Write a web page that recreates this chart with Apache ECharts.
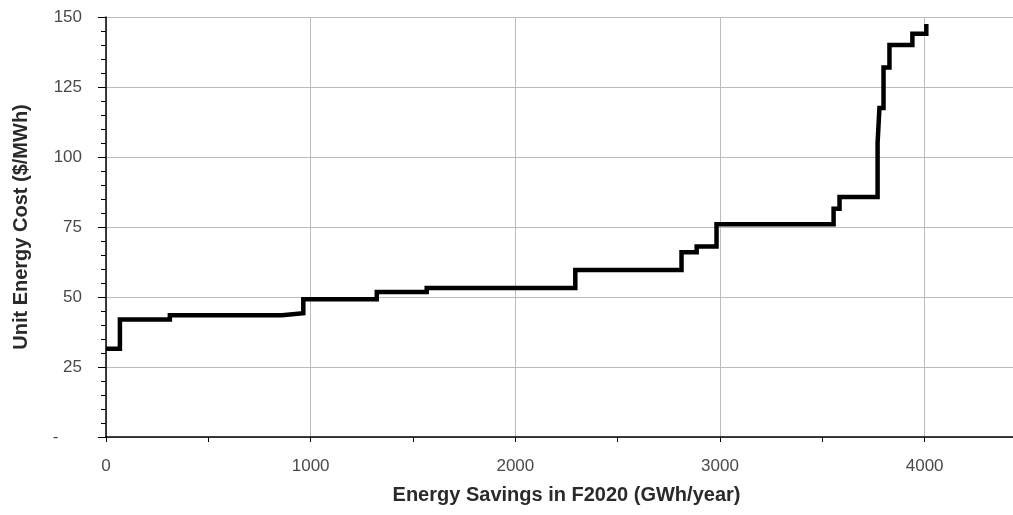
<!DOCTYPE html>
<html>
<head>
<meta charset="utf-8">
<script src="https://cdn.jsdelivr.net/npm/echarts@6/dist/echarts.min.js"></script>
<style>
  html, body { margin: 0; padding: 0; background: #ffffff; }
  #chart { width: 1013px; height: 515px; }
</style>
</head>
<body>
<div id="chart"></div>
<script>
// cumulative savings (GWh/year) where each measure's block starts
const stepStart = [0, 68, 312, 860, 964, 1323, 1567, 2293, 2812, 2886, 2983, 3555, 3584, 3770, 3779, 3799, 3828, 3940, 4008];
// unit cost of each block ($/MWh)
const stepCost = [31.5, 42, 43.5, 44.2, 49.2, 51.8, 53.2, 59.6, 66, 68, 76, 81.5, 85.7, 105, 117.5, 132, 140, 144, 147.5];

const xTitle = "Energy Savings in F2020 (GWh/year)";
const yTitle = "Unit Energy Cost ($/MWh)";

const chart = echarts.init(document.getElementById("chart"));

const gridColor = "#bcbcbc";
const labelColor = "#4a4a4a";
const font = "Liberation Sans, Arial";

const option = {
  animation: false,
  grid: {
    left: 106,
    top: 17,
    width: 921,
    height: 420,
    outerBoundsMode: "none",
  },
  xAxis: [
    {
      type: "value",
      min: 0,
      max: 4500,
      interval: 500,
      axisLine: { lineStyle: { color: "#000000", width: 1.5 } },
      axisTick: { show: true, length: 5, lineStyle: { color: "#000000" } },
      axisLabel: {
        color: labelColor,
        fontFamily: font,
        fontSize: 17,
        margin: 21,
        formatter: (v) => (v % 1000 === 0 ? String(v) : ""),
      },
      splitLine: { show: false },
      name: xTitle,
      nameLocation: "middle",
      nameGap: 48,
      nameTextStyle: {
        color: "#2a2a2a",
        fontFamily: font,
        fontWeight: "bold",
        fontSize: 20,
      },
    },
    {
      // only for the vertical grid lines every 1000
      type: "value",
      min: 0,
      max: 4500,
      interval: 1000,
      position: "bottom",
      axisLine: { show: false },
      axisTick: { show: false },
      axisLabel: { show: false },
      splitLine: { show: true, lineStyle: { color: gridColor, width: 1 } },
    },
  ],
  yAxis: {
    type: "value",
    min: 0,
    max: 150,
    interval: 25,
    axisLine: { show: true, lineStyle: { color: "#000000", width: 1.5 } },
    axisTick: { show: true, length: 8, lineStyle: { color: "#000000" } },
    minorTick: { show: true, splitNumber: 5, length: 5, lineStyle: { color: "#000000" } },
    axisLabel: {
      color: labelColor,
      fontFamily: font,
      fontSize: 17,
      margin: 24,
      formatter: (v) => (v === 0 ? "-     " : String(v)),
    },
    splitLine: { show: true, lineStyle: { color: gridColor, width: 1 } },
    name: yTitle,
    nameLocation: "middle",
    nameGap: 75,
    nameTextStyle: {
      color: "#2a2a2a",
      fontFamily: font,
      fontWeight: "bold",
      fontSize: 20,
    },
  },
  series: [
    {
      type: "line",
      step: "end",
      xAxisIndex: 0,
      data: stepStart.map((x, i) => [x, stepCost[i]]),
      showSymbol: false,
      lineStyle: { color: "#000000", width: 4.5, join: "miter", cap: "butt" },
      silent: true,
    },
  ],
};

chart.setOption(option);
</script>
</body>
</html>
